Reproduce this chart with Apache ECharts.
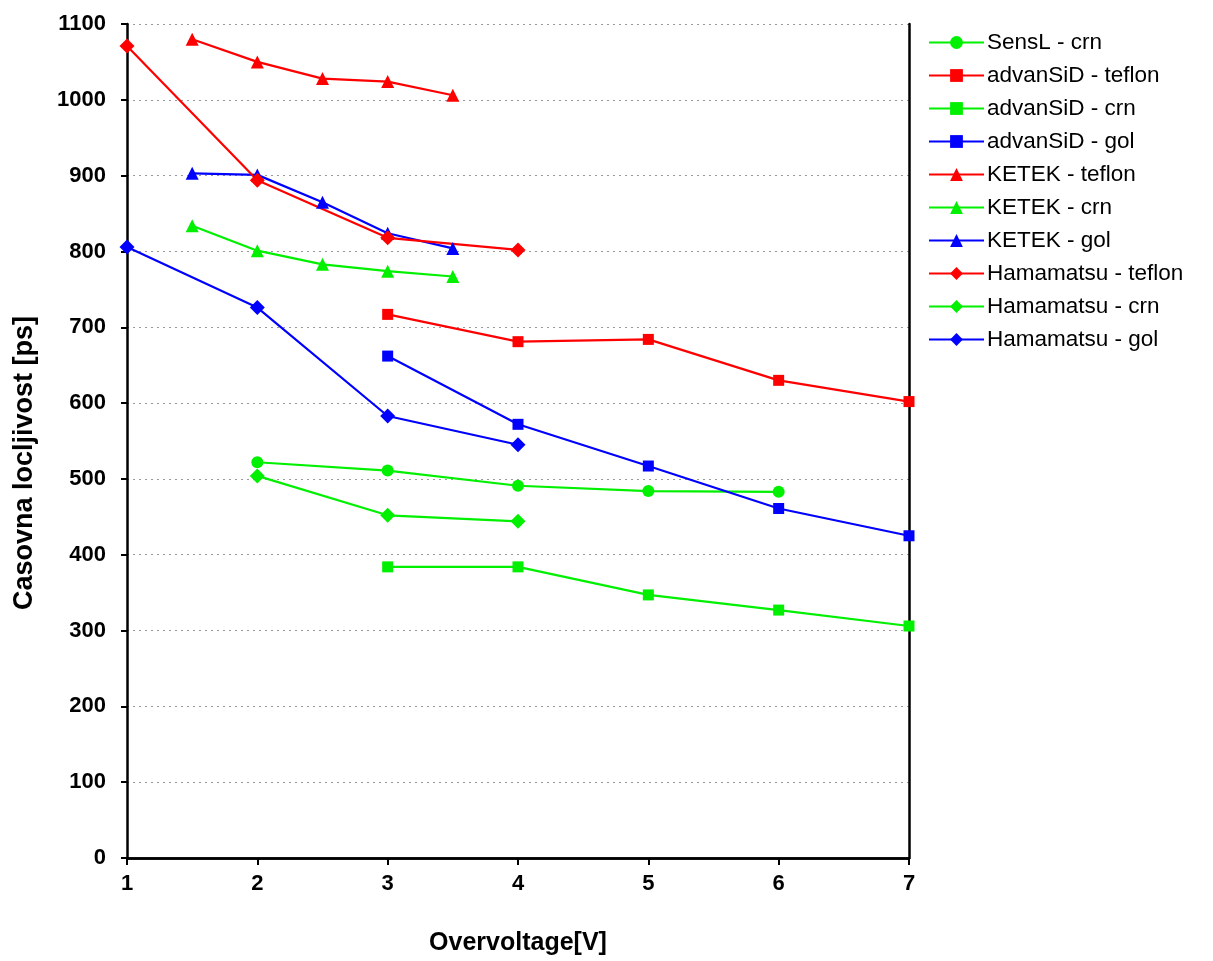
<!DOCTYPE html>
<html><head><meta charset="utf-8">
<script src="https://cdn.jsdelivr.net/npm/echarts@6/dist/echarts.min.js"></script>
<style>html,body{margin:0;padding:0;background:#fff}#c{width:1213px;height:961px}</style>
</head><body><div id="c"></div>
<script>
const seriesNames = ['SensL - crn','advanSiD - teflon','advanSiD - crn','advanSiD - gol','KETEK - teflon','KETEK - crn','KETEK - gol','Hamamatsu - teflon','Hamamatsu - crn','Hamamatsu - gol'];
const sensL_crn_x = [2,3,4,5,6];
const sensL_crn_y = [522,511,491,484,483];
const advan_x = [3,4,5,6,7];
const advan_teflon_y = [717,681,684,630,602];
const advan_crn_y = [384,384,347,327,306];
const advan_gol_y = [662,572,517,461,425];
const ketek_x = [1.5,2,2.5,3,3.5];
const ketek_teflon_y = [1080,1050,1028,1024,1006];
const ketek_crn_y = [834,801,783,774,767];
const ketek_gol_y = [903,901,865,824,804];
const hama_x = [1,2,3,4];
const hama_teflon_y = [1071,894,818,802];
const hama_crn_x = [2,3,4];
const hama_crn_y = [504,452,444];
const hama_gol_y = [806,726,583,545];
const xTicks = [1,2,3,4,5,6,7];
const yTicks = [0,100,200,300,400,500,600,700,800,900,1000,1100];

const RED='#ff0000', GREEN='#00f000', BLUE='#0000ff';
const zip=(xs,ys)=>xs.map((x,i)=>[x,ys[i]]);
const defs = [
  [sensL_crn_x, sensL_crn_y, GREEN, 'circle', 12],
  [advan_x, advan_teflon_y, RED, 'rect', 11],
  [advan_x, advan_crn_y, GREEN, 'rect', 11],
  [advan_x, advan_gol_y, BLUE, 'rect', 11],
  [ketek_x, ketek_teflon_y, RED, 'triangle', 13],
  [ketek_x, ketek_crn_y, GREEN, 'triangle', 13],
  [ketek_x, ketek_gol_y, BLUE, 'triangle', 13],
  [hama_x, hama_teflon_y, RED, 'diamond', 15],
  [hama_crn_x, hama_crn_y, GREEN, 'diamond', 15],
  [hama_x, hama_gol_y, BLUE, 'diamond', 15]
];
const series = defs.map((d,i)=>({
  name: seriesNames[i], type:'line', xAxisIndex:0, yAxisIndex:0,
  data: zip(d[0],d[1]), symbol:d[3], symbolSize:d[4],
  itemStyle:{color:d[2]}, lineStyle:{color:d[2], width:2.2}, z:2
}));
const fnt = "'Liberation Sans',Arial,sans-serif";
const chart = echarts.init(document.getElementById('c'));
chart.setOption({
  animation:false,
  backgroundColor:'#fff',
  grid:{left:127, right:304, top:24, bottom:102, containLabel:false},
  legend:{
    orient:'vertical', left:923, top:26, itemWidth:55, itemHeight:16, itemGap:10,
    textStyle:{fontFamily:fnt, fontSize:22.5, lineHeight:23, color:'#000', padding:[0,0,0,-2]},
    data: seriesNames
  },
  xAxis:[{
    type:'value', min:1, max:7, interval:1, position:'bottom',
    name:'Overvoltage[V]', nameLocation:'middle', nameGap:73,
    nameTextStyle:{fontFamily:fnt, fontWeight:'bold', fontSize:25, color:'#000'},
    axisLine:{lineStyle:{color:'#000', width:2.5}},
    axisTick:{show:true, inside:false, length:7, lineStyle:{color:'#000', width:2}},
    axisLabel:{fontFamily:fnt, fontWeight:'bold', fontSize:22, color:'#000', margin:15},
    splitLine:{show:false}
  },{
    type:'value', min:1, max:7, interval:1, position:'top',
    axisLine:{show:true, lineStyle:{color:'#000', width:2.5}},
    axisTick:{show:false}, axisLabel:{show:false}, splitLine:{show:false}
  }],
  yAxis:[{
    type:'value', min:0, max:1100, interval:100, position:'left',
    name:'Casovna locljivost [ps]', nameLocation:'middle', nameGap:89,
    nameTextStyle:{fontFamily:fnt, fontWeight:'bold', fontSize:27, color:'#000', padding:[0,44,0,0]},
    axisLine:{show:true, lineStyle:{color:'#000', width:2.5}},
    axisTick:{show:true, inside:false, length:6, lineStyle:{color:'#000', width:2}},
    axisLabel:{fontFamily:fnt, fontWeight:'bold', fontSize:22, color:'#000', margin:21, formatter:(v)=>String(v)},
    splitLine:{show:true, lineStyle:{color:'#999', type:[2,4], width:1}}
  },{
    type:'value', min:0, max:1100, interval:100, position:'right',
    axisLine:{show:true, lineStyle:{color:'#000', width:2.5}},
    axisTick:{show:false}, axisLabel:{show:false}, splitLine:{show:false}
  }],
  series: series
});
</script>
</body></html>
